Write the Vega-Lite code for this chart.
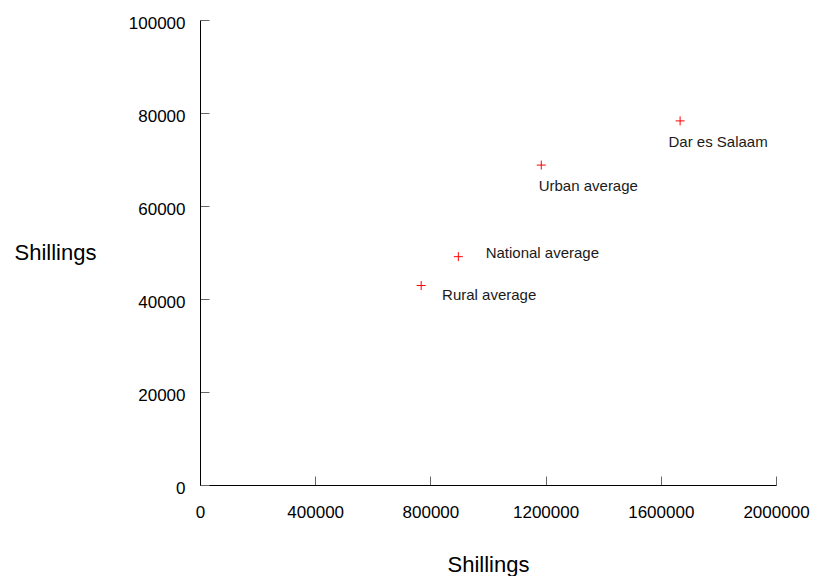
{
  "$schema": "https://vega.github.io/schema/vega-lite/v6.json",
  "width": 576,
  "height": 465,
  "autosize": {"type": "none"},
  "padding": {"left": 200, "top": 20, "right": 39, "bottom": 91},
  "background": "white",
  "config": {
    "view": {"stroke": null},
    "font": "Liberation Sans",
    "axis": {
      "grid": false,
      "domainColor": "#000000",
      "domainWidth": 1,
      "tickColor": "#666666",
      "tickSize": -9,
      "labelFont": "Liberation Sans",
      "labelFontSize": 17,
      "labelColor": "#000000",
      "titleFont": "Liberation Sans",
      "titleFontSize": 22,
      "titleFontWeight": "normal",
      "titleColor": "#000000"
    }
  },
  "data": {
    "values": [
      {"name": "Rural average", "x": 768000, "y": 42900},
      {"name": "National average", "x": 897000, "y": 49100},
      {"name": "Urban average", "x": 1185000, "y": 68800},
      {"name": "Dar es Salaam", "x": 1667000, "y": 78300}
    ]
  },
  "encoding": {
    "x": {
      "field": "x",
      "type": "quantitative",
      "scale": {"domain": [0, 2000000], "nice": false},
      "axis": {
        "title": "Shillings",
        "values": [0, 400000, 800000, 1200000, 1600000, 2000000],
        "format": "d",
        "labelPadding": 28,
        "labelFlush": false,
        "titleY": 86,
        "titleBaseline": "alphabetic"
      }
    },
    "y": {
      "field": "y",
      "type": "quantitative",
      "scale": {"domain": [0, 100000], "nice": false},
      "axis": {
        "title": "Shillings",
        "values": [0, 20000, 40000, 60000, 80000, 100000],
        "format": "d",
        "labelPadding": 24,
        "labelOffset": 3,
        "labelFlush": false,
        "titleAngle": 0,
        "titleX": -145,
        "titleY": 239,
        "titleAlign": "center",
        "titleBaseline": "alphabetic"
      }
    }
  },
  "layer": [
    {
      "mark": {"type": "point", "shape": "M-1,0L1,0M0,-1L0,1", "size": 81, "stroke": "#ff0000", "strokeWidth": 1, "fill": null, "filled": false, "opacity": 1}
    },
    {
      "transform": [{"filter": "datum.name === 'Dar es Salaam'"}],
      "mark": {"type": "text", "align": "center", "baseline": "middle", "dx": 38, "dy": 21, "fontSize": 15, "fill": "#1a1a1a"},
      "encoding": {"text": {"field": "name"}}
    },
    {
      "transform": [{"filter": "datum.name === 'Urban average'"}],
      "mark": {"type": "text", "align": "center", "baseline": "middle", "dx": 47, "dy": 21, "fontSize": 15, "fill": "#1a1a1a"},
      "encoding": {"text": {"field": "name"}}
    },
    {
      "transform": [{"filter": "datum.name === 'National average'"}],
      "mark": {"type": "text", "align": "center", "baseline": "middle", "dx": 84, "dy": -4, "fontSize": 15, "fill": "#1a1a1a"},
      "encoding": {"text": {"field": "name"}}
    },
    {
      "transform": [{"filter": "datum.name === 'Rural average'"}],
      "mark": {"type": "text", "align": "center", "baseline": "middle", "dx": 68, "dy": 9, "fontSize": 15, "fill": "#1a1a1a"},
      "encoding": {"text": {"field": "name"}}
    }
  ]
}
